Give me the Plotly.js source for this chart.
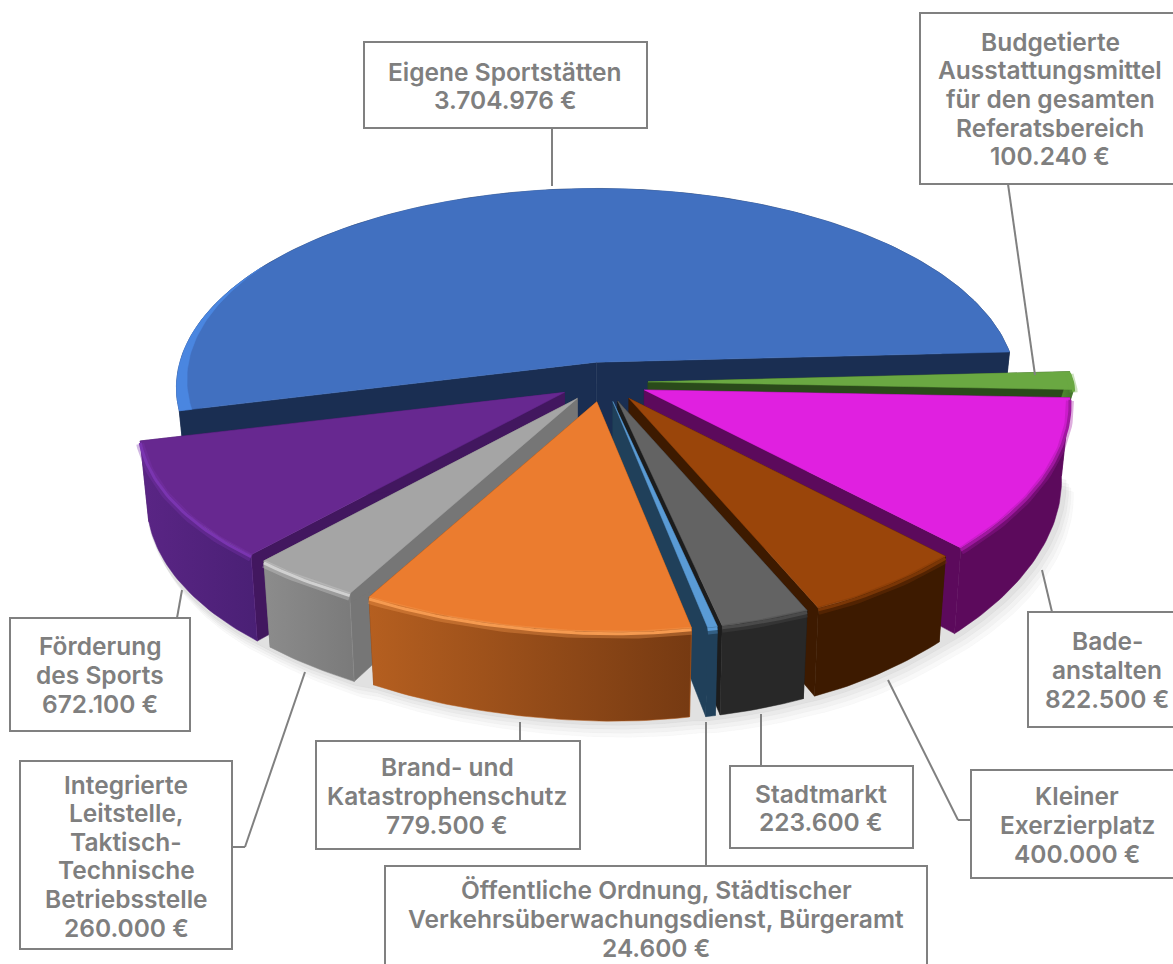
<!DOCTYPE html>
<html><head><meta charset="utf-8">
<script src="https://cdn.plot.ly/plotly-3.0.1.min.js"></script>
<style>html,body{margin:0;padding:0;background:#fff;overflow:hidden}</style>
</head><body><div id="chart" style="width:1173px;height:964px"></div>
<script>
// ---------- data ----------
const categories = ["Eigene Sportstätten",
  "Budgetierte<br>Ausstattungsmittel<br>für den gesamten<br>Referatsbereich",
  "Bade-<br>anstalten","Kleiner<br>Exerzierplatz","Stadtmarkt",
  "Öffentliche Ordnung, Städtischer<br>Verkehrsüberwachungsdienst, Bürgeramt",
  "Brand- und<br>Katastrophenschutz",
  "Integrierte<br>Leitstelle,<br>Taktisch-<br>Technische<br>Betriebsstelle",
  "Förderung<br>des Sports"];
const values = [3704976,100240,822500,400000,223600,24600,779500,260000,672100];

// ---------- styles ----------
const topColors  = ["#4170c0","#6aa842","#e020e0","#9a450a","#636363","#5a9bd5","#eb7c2f","#a5a5a5","#672890"];
const cutColors  = ["#1a2e52","#2a4a1a","#5c0a5c","#3d1a00","#1c1c1c","#20405a","#7a3d12","#767676","#42175f"];
const sideLeft   = ["#1a2e52","#4f8a30","#5c0a5c","#3d1a00","#282828","#20405a","#b55f20","#8c8c8c","#5a2585"];
const sideRight  = ["#1a2e52","#3f6f28","#5c0a5c","#3d1a00","#282828","#20405a","#763a12","#7a7a7a","#4a2075"];
const rimColors  = ["#4170c0","#6aa842","#a018a0","#7a3606","#4a4a4a","#5a9bd5","#f59a50","#d0d0d0","#7a35b0"];
const sideDepth  = [1,0.35,1,1,1,1,1,1,1];
const paintOrder = [0,1,2,8,3,7,4,5,6];
const textColor = "#7f7f7f", boxColor = "#808080";

// ---------- label boxes [x0,y0,x1,y1], text centres, leader polylines ----------
const boxes = [[364,42,647,128],[920,13,1180,184],[1028,612,1180,727],[971,770,1180,878],
  [730,766,913,848],[385,866,927,975],[316,741,580,849],[20,761,232,949],[10,618,190,731]];
const textCentres = [[505,86],[1050,99],[1107,670],[1077,825],[821,808],[656,919],[447,796],[126,856],[100,675]];
const leaders = [[[552,128],[552,186]],[[1008,184],[1035,375]],[[1052,612],[1042,570]],
  [[971,820],[958,820],[888,680]],[[761,766],[761,714]],[[706,866],[706,722]],[[520,741],[520,722]],
  [[232,847],[245,847],[305,672]],[[177,618],[182,590]]];
const LINE_STEP = 28.6;

// ---------- projection of the pie ----------
const C = {x:603,y:382}, EX = 45, EY = 20;
const A = 425, B = 196, P = 0.128, H = 78, BOTTOM = 0.98;
const START = 256.1;
const total = values.reduce((a,b)=>a+b,0);
const rad = d=>d*Math.PI/180;
const clamp01 = v=>Math.min(1,Math.max(0,v));
function rimPoint(i,ax,ay,deg,bottom){
  const t = rad(deg), sn = Math.sin(t), d = -Math.cos(t), s = 1/(1-P*d);
  let dx = A*sn*s, dy = B*d*s;
  if(i===0){ dx*=0.98; }
  else {
    const dp = Math.max(d,0), w = clamp01((sn+0.3)/0.5);
    dx *= w*(1-0.07*dp) + (1-w)*(1+0.02*dp-0.008);
  }
  if(d>0){ dy += 10*d*clamp01(sn+0.5); }
  if(bottom){dx*=BOTTOM; dy+=H*s*sideDepth[i];}
  return [ax+dx, ay+dy];
}
function fmt(v){return String(v).replace(/\B(?=(\d{3})+(?!\d))/g,".")+" €";}

let acc = START;
const slices = values.map((v,i)=>{
  const sweep = v/total*360, t0 = acc, t1 = acc+sweep; acc = t1;
  const mid = rad((t0+t1)/2);
  return {i,t0,t1,ax:C.x+EX*Math.sin(mid),ay:C.y-EY*Math.cos(mid)};
});
function arc(s,bottom,from,to){
  const a=from===undefined?s.t0:from, b=to===undefined?s.t1:to;
  const pts=[], n=Math.max(4,Math.ceil(b-a));
  for(let k=0;k<=n;k++) pts.push(rimPoint(s.i,s.ax,s.ay,a+(b-a)*k/n,bottom));
  return pts;
}
function poly(pts,color,grad){
  const tr={type:"scatter",mode:"lines",x:pts.map(p=>p[0]).concat(pts[0][0]),y:pts.map(p=>p[1]).concat(pts[0][1]),
    fill:"toself",line:{width:0.5,color:color},fillcolor:color,hoverinfo:"skip",showlegend:false};
  if(grad){tr.fillgradient={type:"horizontal",colorscale:[[0,grad[0]],[1,grad[1]]]};}
  return tr;
}
function stroke(pts,color,w,op,off){
  return {type:"scatter",mode:"lines",x:pts.map(p=>p[0]),y:pts.map(p=>p[1]+off),opacity:op,
    line:{width:w,color:color},hoverinfo:"skip",showlegend:false};
}
const traces=[];
// soft shadow under the pie
[[16,0.03],[12,0.035],[8,0.04],[4,0.05]].forEach(([g,o])=>{
  const pts=[];
  slices.forEach((s,i)=>{ if(i>1) arc(s,true).forEach(p=>pts.push([C.x+(p[0]-C.x)*1.005+g*0.6,p[1]+g]));});
  pts.push([C.x,C.y]);
  traces.push(poly(pts,`rgba(60,60,60,${o})`));
});
paintOrder.forEach(i=>{
  const s=slices[i], top=arc(s,false), bot=arc(s,true);
  const aT=[s.ax,s.ay], aB=[s.ax,s.ay+H*sideDepth[i]];
  traces.push(poly([aT,top[0],bot[0],aB],cutColors[i]));
  traces.push(poly([aT,top[top.length-1],bot[bot.length-1],aB],cutColors[i]));
  traces.push(poly(top.concat(bot.slice().reverse()),sideLeft[i],[sideLeft[i],sideRight[i]]));
  traces.push(poly([aT].concat(top),topColors[i]));
  if(i===0){
    // tapered highlight on the left end of the large slice
    const outer=arc(s,false,s.t0,s.t0+45);
    const inner=outer.map((p,k)=>{const f=0.03*(1-k/(outer.length-1));return [p[0]+(s.ax-p[0])*f,p[1]+(s.ay-p[1])*f];});
    traces.push(poly(outer.concat(inner.reverse()),"#4a86e0"));
  } else {
    traces.push(stroke(top,rimColors[i],8,0.35,3));
    traces.push(stroke(top,rimColors[i],3,1,2));
  }
});

const shapes=[];
leaders.forEach(l=>{ for(let k=0;k<l.length-1;k++) shapes.push({type:"line",x0:l[k][0],y0:l[k][1],x1:l[k+1][0],y1:l[k+1][1],line:{color:boxColor,width:2}}); });
boxes.forEach(b=>shapes.push({type:"rect",x0:b[0],y0:b[1],x1:b[2],y1:b[3],line:{color:boxColor,width:2},fillcolor:"#ffffff"}));

const annotations=[];
categories.forEach((c,i)=>{
  const lines=c.split("<br>").concat(fmt(values[i]));
  lines.forEach((ln,k)=>annotations.push({x:textCentres[i][0],y:textCentres[i][1]+(k-(lines.length-1)/2)*LINE_STEP,
    xref:"x",yref:"y",text:ln,showarrow:false,align:"center",xanchor:"center",yanchor:"middle",
    font:{family:"Inter, 'Open Sans', sans-serif",size:24.5,color:textColor,weight:600}}));
});

Plotly.newPlot("chart",traces,{
  width:1173,height:964,margin:{l:0,r:0,t:0,b:0},paper_bgcolor:"#fff",plot_bgcolor:"#fff",showlegend:false,
  xaxis:{range:[0,1173],visible:false,fixedrange:true},
  yaxis:{range:[964,0],visible:false,fixedrange:true},
  shapes,annotations,hovermode:false
},{displayModeBar:false,staticPlot:true});
</script></body></html>
